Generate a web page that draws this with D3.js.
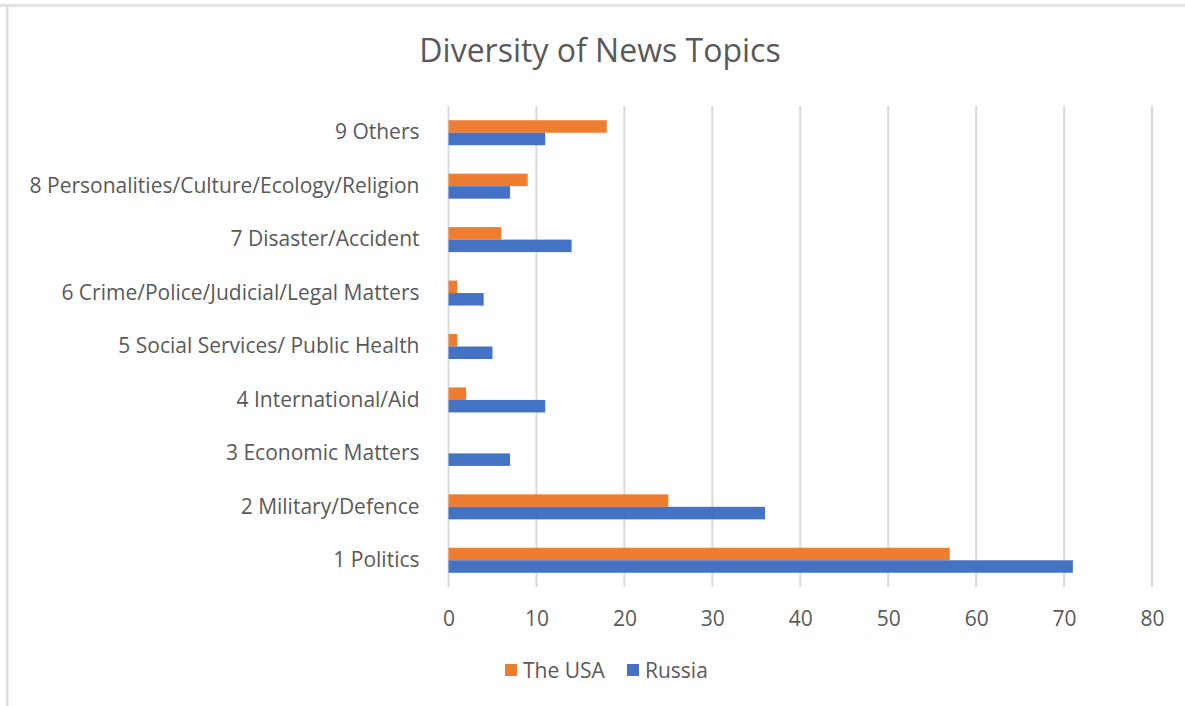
<!DOCTYPE html>
<html>
<head>
<meta charset="utf-8">
<script src="https://cdn.jsdelivr.net/npm/d3@7"></script>
<style>
  body { margin: 0; background: #fff; }
  text { font-family: "Open Sans", Lato, sans-serif; fill: #595959; }
</style>
</head>
<body>
<div id="viz"></div>
<script>
// news topics, bottom to top as drawn
const topics = [
    "1 Politics",
    "2 Military/Defence",
    "3 Economic Matters",
    "4 International/Aid",
    "5 Social Services/ Public Health",
    "6 Crime/Police/Judicial/Legal Matters",
    "7 Disaster/Accident",
    "8 Personalities/Culture/Ecology/Religion",
    "9 Others"
];
const usaValues = [57, 25, 0, 2, 1, 1, 6, 9, 18];
const russiaValues = [71, 36, 7, 11, 5, 4, 14, 7, 11];
const seriesNames = ["The USA", "Russia"];
const seriesColors = ["#ed7d31", "#4472c4"];
const xTicks = [0, 10, 20, 30, 40, 50, 60, 70, 80];

function drawChart() {
    const dimensions = {
        width: 1185,
        height: 706,
        margins: { left: 448.5, right: 33, top: 106, bottom: 119 }
    };
    dimensions.boundedWidth = dimensions.width - dimensions.margins.left - dimensions.margins.right;
    dimensions.boundedHeight = dimensions.height - dimensions.margins.top - dimensions.margins.bottom;

    const viz = d3.select('#viz').append('svg')
        .attr('width', dimensions.width)
        .attr('height', dimensions.height);

    // frame bits (top and left edges only)
    viz.append('rect').attr('x', 0).attr('y', 4).attr('width', dimensions.width).attr('height', 3).attr('fill', '#e3e3e3');
    viz.append('rect').attr('x', 6).attr('y', 5).attr('width', 2.5).attr('height', dimensions.height).attr('fill', '#dedede');

    viz.append('text')
        .attr('x', 600)
        .attr('y', 62)
        .attr('text-anchor', 'middle')
        .style('font-size', '32px')
        .text('Diversity of News Topics');

    const bounds = viz.append('g')
        .attr('transform', `translate(${dimensions.margins.left}, ${dimensions.margins.top})`);

    const xScale = d3.scaleLinear()
        .domain([0, 80])
        .range([0, dimensions.boundedWidth]);

    // top of chart is last category
    const yScale = d3.scaleBand()
        .domain(topics.slice().reverse())
        .range([0, dimensions.boundedHeight]);

    const subScale = d3.scaleBand()
        .domain(seriesNames)
        .range([yScale.bandwidth() / 2 - 12.5, yScale.bandwidth() / 2 + 12.5]);

    // gridlines
    bounds.selectAll('.grid')
        .data(xTicks)
        .enter()
        .append('line')
            .attr('x1', d => xScale(d))
            .attr('x2', d => xScale(d))
            .attr('y1', 0)
            .attr('y2', dimensions.boundedHeight)
            .attr('stroke', '#d9d9d9')
            .attr('stroke-width', 2);

    const xAxis = bounds.append('g')
        .attr('transform', `translate(0, ${dimensions.boundedHeight})`)
        .call(d3.axisBottom(xScale).tickValues(xTicks).tickSize(0).tickPadding(24));
    xAxis.select('.domain').remove();
    xAxis.selectAll('text')
        .style('font-size', '21px')
        .attr('fill', '#595959');

    const yAxis = bounds.append('g')
        .call(d3.axisLeft(yScale).tickSize(0).tickPadding(29));
    yAxis.select('.domain').remove();
    yAxis.selectAll('text')
        .style('font-size', '21px')
        .attr('fill', '#595959');

    const rows = topics.map((t, i) => ({ topic: t, values: [usaValues[i], russiaValues[i]] }));

    const groups = bounds.selectAll('.row')
        .data(rows)
        .enter()
        .append('g')
            .attr('transform', d => `translate(0, ${yScale(d.topic)})`);

    groups.selectAll('rect')
        .data(d => d.values.map((v, j) => ({ name: seriesNames[j], value: v, color: seriesColors[j] })))
        .enter()
        .append('rect')
            .attr('x', xScale(0))
            .attr('y', d => subScale(d.name))
            .attr('width', d => xScale(d.value) - xScale(0))
            .attr('height', subScale.bandwidth())
            .attr('fill', d => d.color);

    // legend
    const legendX = [505, 627];
    const legend = viz.selectAll('.legend')
        .data(seriesNames)
        .enter()
        .append('g')
            .attr('transform', (d, i) => `translate(${legendX[i]}, 664)`);
    legend.append('rect')
        .attr('width', 12)
        .attr('height', 12)
        .attr('fill', (d, i) => seriesColors[i]);
    legend.append('text')
        .attr('x', 18)
        .attr('y', 14)
        .style('font-size', '21px')
        .text(d => d);
}

drawChart();
</script>
</body>
</html>
